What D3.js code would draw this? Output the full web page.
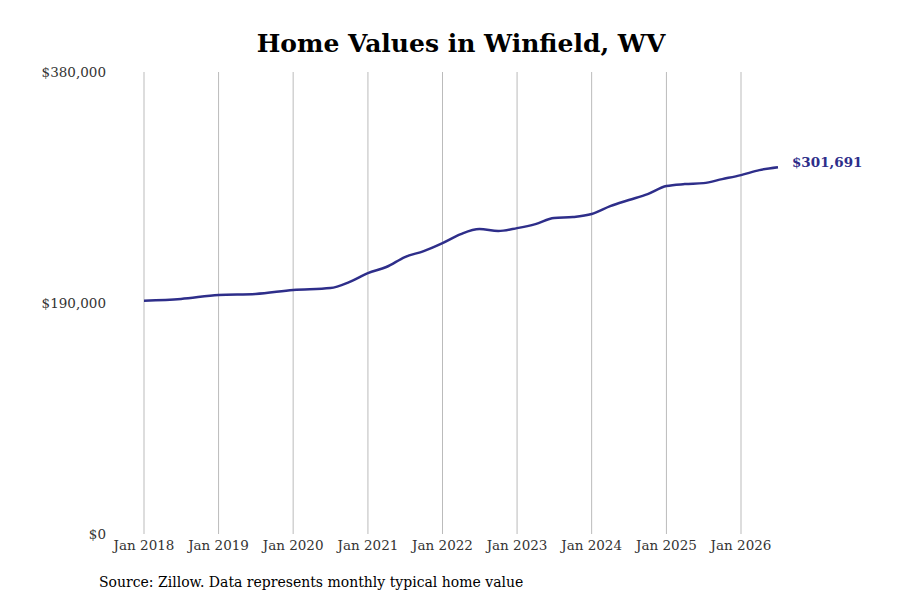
<!DOCTYPE html>
<html><head><meta charset="utf-8">
<script src="https://cdn.jsdelivr.net/npm/d3@7"></script>
<style>body{margin:0;background:#fff}text{font-family:"DejaVu Serif",serif}</style>
</head><body><div id="chart"></div>
<script>
// Quarterly readings of the typical home value
var dates = ["2018-01","2018-07","2019-01","2019-07","2020-01","2020-07","2020-10",
  "2021-01","2021-04","2021-07","2021-10","2022-01","2022-04","2022-07","2022-10",
  "2023-01","2023-04","2023-07","2023-10","2024-01","2024-04","2024-07","2024-10",
  "2025-01","2025-04","2025-07","2025-10","2026-01","2026-04","2026-07"];
var values = [191900,193300,196600,197400,200700,202300,207200,
  214600,219600,227800,232700,239300,246700,250800,249200,
  251600,254900,259900,260700,263200,269700,274700,279600,
  286200,287800,288600,291900,295200,299300,301691];
var yTicks = [0, 190000, 380000];
var xTickYears = [2018,2019,2020,2021,2022,2023,2024,2025,2026];

var width = 900, height = 600, color = "#2e2e8a";
var parse = d3.timeParse("%Y-%m");
var data = dates.map(function(d, i){ return {date: parse(d), value: values[i]}; });

var svg = d3.select("#chart").append("svg").attr("width", width).attr("height", height);

var x = d3.scaleTime().domain([new Date(2018,0,1), new Date(2026,0,1)]).range([144, 741]);
var y = d3.scaleLinear().domain([0, 380000]).range([534, 72]);

// vertical grid lines
svg.selectAll(".grid").data(xTickYears).enter().append("line")
  .attr("x1", function(d){ return x(new Date(d,0,1)); })
  .attr("x2", function(d){ return x(new Date(d,0,1)); })
  .attr("y1", 72).attr("y2", 534)
  .attr("stroke", "#bbb").attr("stroke-width", 1);

svg.selectAll(".xl").data(xTickYears).enter().append("text")
  .attr("x", function(d){ return x(new Date(d,0,1)); })
  .attr("y", 550).attr("text-anchor", "middle")
  .attr("font-size", 13.5).attr("fill", "#333")
  .text(function(d){ return "Jan " + d; });

svg.selectAll(".yl").data(yTicks).enter().append("text")
  .attr("x", 106).attr("y", function(d){ return y(d) + 5; })
  .attr("text-anchor", "end").attr("font-size", 13.5).attr("fill", "#333")
  .text(function(d){ return "$" + d3.format(",")(d); });

var line = d3.line().x(function(d){ return x(d.date); }).y(function(d){ return y(d.value); })
  .curve(d3.curveMonotoneX);
svg.append("path").datum(data).attr("d", line)
  .attr("fill", "none").attr("stroke", color).attr("stroke-width", 2.5);

var last = data[data.length - 1];
svg.append("text").attr("x", x(last.date) + 14).attr("y", y(last.value) + 0)
  .attr("font-size", 13.5).attr("font-weight", "bold").attr("fill", color)
  .text("$" + d3.format(",")(last.value));

svg.append("text").attr("x", 461).attr("y", 52).attr("text-anchor", "middle")
  .attr("font-size", 25).attr("font-weight", "bold").attr("fill", "#000")
  .text("Home Values in Winfield, WV");

svg.append("text").attr("x", 99).attr("y", 587).attr("font-size", 14).attr("fill", "#000")
  .text("Source: Zillow. Data represents monthly typical home value");
</script></body></html>
